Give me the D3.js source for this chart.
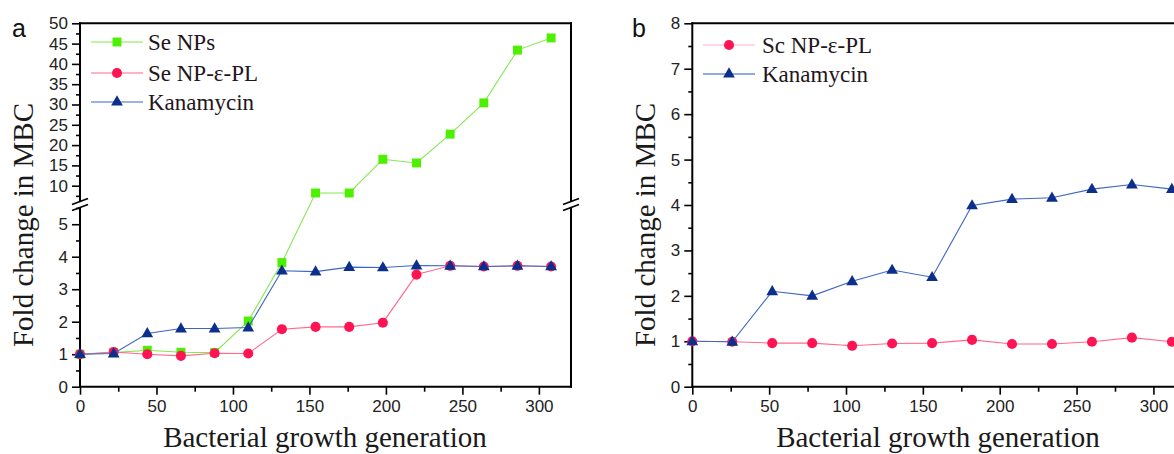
<!DOCTYPE html>
<html lang="en">
<head>
<meta charset="UTF-8">
<title>Fold change in MBC</title>
<script src="https://d3js.org/d3.v7.min.js"></script>
<style>
    body {
        margin: 0;
        background: #fff;
        overflow: hidden;
    }
    .tick text {
        font-family: 'Liberation Sans', Arial, sans-serif;
        font-size: 17px;
        fill: #222;
    }
    .title {
        font-family: 'Liberation Serif', 'Times New Roman', serif;
        font-size: 29px;
        fill: #1a1a1a;
    }
    .legend text {
        font-family: 'Liberation Serif', 'Times New Roman', serif;
        font-size: 23px;
        fill: #1f1620;
    }
    .panel-label {
        font-family: 'Liberation Sans', Arial, sans-serif;
        font-size: 25px;
        fill: #111;
    }
</style>
</head>
<body>
<div id="chart"></div>
<script>
// data, panel a
const genA = [0, 22, 44, 66, 88, 110, 132, 154, 176, 198, 220, 242, 264, 286, 308];
const seNPsA = [1.0, 1.05, 1.12, 1.06, 1.05, 2.02, 3.82, 8.2, 8.2, 16.5, 15.6, 22.7, 30.4, 43.4, 46.4];
const sePLA = [1.0, 1.07, 1.0, 0.95, 1.03, 1.02, 1.77, 1.84, 1.84, 1.97, 3.45, 3.72, 3.7, 3.72, 3.7];
const kanA = [1.0, 1.02, 1.64, 1.79, 1.79, 1.82, 3.57, 3.54, 3.68, 3.67, 3.73, 3.72, 3.7, 3.72, 3.7];

// data, panel b
const genB = [0, 26, 52, 78, 104, 130, 156, 182, 208, 234, 260, 286, 312];
const sePLB = [1.0, 0.99, 0.96, 0.96, 0.9, 0.95, 0.96, 1.03, 0.94, 0.94, 0.99, 1.08, 0.99];
const kanB = [1.0, 0.99, 2.1, 2.0, 2.32, 2.57, 2.41, 3.99, 4.13, 4.16, 4.35, 4.45, 4.35];

// tick values
const xTicks = [0, 50, 100, 150, 200, 250, 300];
const xMinor = [25, 75, 125, 175, 225, 275];
const yLowTicks = [0, 1, 2, 3, 4, 5];
const yHighTicks = [10, 15, 20, 25, 30, 35, 40, 45, 50];
const yBTicks = [0, 1, 2, 3, 4, 5, 6, 7, 8];

const green = { marker: "#4cf000", line: "#86e651" };
const red = { marker: "#ff1453", line: "#ff6a8c" };
const blue = { marker: "#0b2f8a", line: "#3d66c2" };

const W = 1174, H = 454;
const svg = d3.select("#chart").append("svg")
    .attr("width", W)
    .attr("height", H);

svg.append("rect").attr("width", W).attr("height", H).attr("fill", "#fff");

const sym = {
    square: d3.symbol().type(d3.symbolSquare).size(80),
    circle: d3.symbol().type(d3.symbolCircle).size(80),
    triangle: d3.symbol().type(d3.symbolTriangle).size(60)
};

function minorRange(a, b, step) {
    const out = [];
    for (let v = a; v <= b + 1e-9; v += step) out.push(+v.toFixed(3));
    return out;
}

function drawSeries(g, xs, ys, x, y, color, shape) {
    const pts = xs.map((d, i) => [x(d), y(ys[i])]);
    g.append("path")
        .attr("d", d3.line()(pts))
        .attr("fill", "none")
        .attr("stroke", color.line)
        .attr("stroke-width", 1.1);
    g.selectAll(null)
        .data(pts)
        .enter()
        .append("path")
        .attr("d", sym[shape])
        .attr("transform", d => `translate(${d[0]},${d[1] + (shape === "triangle" ? 0.5 : 0)})`)
        .attr("fill", color.marker);
}

function drawXAxis(g, x, y0) {
    g.append("g")
        .attr("transform", `translate(0,${y0})`)
        .call(d3.axisBottom(x).tickValues(xTicks).tickSize(8).tickPadding(5).tickFormat(d3.format("d")))
        .call(a => a.select(".domain").remove())
        .call(a => a.selectAll("line").attr("stroke-width", 1.6));
    g.append("g")
        .attr("transform", `translate(0,${y0})`)
        .call(d3.axisBottom(x).tickValues(xMinor).tickSize(5).tickFormat(""))
        .call(a => a.select(".domain").remove())
        .call(a => a.selectAll("line").attr("stroke-width", 1.6));
}

function drawYTicks(g, y, x0, major, minor) {
    g.append("g")
        .attr("transform", `translate(${x0},0)`)
        .call(d3.axisLeft(y).tickValues(major).tickSize(8).tickPadding(4).tickFormat(d3.format("d")))
        .call(a => a.select(".domain").remove())
        .call(a => a.selectAll("line").attr("stroke-width", 1.6));
    g.append("g")
        .attr("transform", `translate(${x0},0)`)
        .call(d3.axisLeft(y).tickValues(minor).tickSize(4).tickFormat(""))
        .call(a => a.select(".domain").remove())
        .call(a => a.selectAll("line").attr("stroke-width", 1.6));
}

function hline(g, x1, x2, y) {
    g.append("line").attr("x1", x1).attr("x2", x2).attr("y1", y).attr("y2", y)
        .attr("stroke", "#000").attr("stroke-width", 2);
}
function vline(g, x, y1, y2) {
    g.append("line").attr("x1", x).attr("x2", x).attr("y1", y1).attr("y2", y2)
        .attr("stroke", "#000").attr("stroke-width", 2);
}

// ---------- panel a ----------
const gA = svg.append("g");
const xA = d3.scaleLinear().domain([0, 321]).range([80, 571]);
const yLow = d3.scaleLinear().domain([0, 5.53]).range([386.7, 207]);
const yHigh = d3.scaleLinear().domain([6.23, 50]).range([201, 23.3]);
const yA = v => (v < 6 ? yLow(v) : yHigh(v));

drawYTicks(gA, yLow, 80, yLowTicks, minorRange(0.5, 5.5, 1));
drawYTicks(gA, yHigh, 80, yHighTicks, minorRange(7.5, 47.5, 5));
drawXAxis(gA, xA, 386.7);

// frame with broken y axis
vline(gA, 80, 387.7, 207);
vline(gA, 80, 201, 22.3);
vline(gA, 571, 387.7, 207);
vline(gA, 571, 201, 22.3);
hline(gA, 79, 572, 386.7);
hline(gA, 79, 572, 23.3);

[80, 571].forEach(bx => {
    [201.5, 207.5].forEach(by => {
        gA.append("line")
            .attr("x1", bx - 8).attr("y1", by + 3)
            .attr("x2", bx + 8).attr("y2", by - 3)
            .attr("stroke", "#000").attr("stroke-width", 1.8);
    });
});

drawSeries(gA, genA, seNPsA, xA, yA, green, "square");
drawSeries(gA, genA, sePLA, xA, yA, red, "circle");
drawSeries(gA, genA, kanA, xA, yA, blue, "triangle");

// legend a
const legA = gA.append("g").attr("class", "legend");
[["Se NPs", green, "square", 42], ["Se NP-\u03b5-PL", red, "circle", 73], ["Kanamycin", blue, "triangle", 102]]
    .forEach(([label, c, shape, ly]) => {
        legA.append("line").attr("x1", 91).attr("x2", 143).attr("y1", ly).attr("y2", ly)
            .attr("stroke", c.line).attr("stroke-width", 1.2);
        legA.append("path").attr("d", sym[shape]).attr("transform", `translate(117,${ly})`).attr("fill", c.marker);
        legA.append("text").attr("x", 148).attr("y", ly + 8).text(label);
    });

gA.append("text").attr("class", "panel-label").attr("x", 12).attr("y", 37).text("a");
gA.append("text").attr("class", "title")
    .attr("transform", "translate(33,225) rotate(-90)")
    .attr("text-anchor", "middle")
    .text("Fold change in MBC");
gA.append("text").attr("class", "title")
    .attr("x", 325).attr("y", 447)
    .attr("text-anchor", "middle")
    .text("Bacterial growth generation");

// ---------- panel b ----------
const gB = svg.append("g");
const xB = d3.scaleLinear().domain([0, 321]).range([692.3, 1185.7]);
const yB = d3.scaleLinear().domain([0, 8]).range([386.7, 23.3]);

drawYTicks(gB, yB, 692.3, yBTicks, minorRange(0.5, 7.5, 1));
drawXAxis(gB, xB, 386.7);

vline(gB, 692.3, 387.7, 22.3);
hline(gB, 691.3, 1186, 386.7);
hline(gB, 691.3, 1186, 23.3);

drawSeries(gB, genB, sePLB, xB, yB, red, "circle");
drawSeries(gB, genB, kanB, xB, yB, blue, "triangle");

const legB = gB.append("g").attr("class", "legend");
[["Sc NP-\u03b5-PL", red, "circle", 45, "#ffb6c8"], ["Kanamycin", blue, "triangle", 74, "#2a56b0"]]
    .forEach(([label, c, shape, ly, lc]) => {
        legB.append("line").attr("x1", 703).attr("x2", 755).attr("y1", ly).attr("y2", ly)
            .attr("stroke", lc).attr("stroke-width", 1.2);
        legB.append("path").attr("d", sym[shape]).attr("transform", `translate(729,${ly})`).attr("fill", c.marker);
        legB.append("text").attr("x", 762).attr("y", ly + 8).text(label);
    });

gB.append("text").attr("class", "panel-label").attr("x", 632).attr("y", 37).text("b");
gB.append("text").attr("class", "title")
    .attr("transform", "translate(655,225) rotate(-90)")
    .attr("text-anchor", "middle")
    .text("Fold change in MBC");
gB.append("text").attr("class", "title")
    .attr("x", 938).attr("y", 447)
    .attr("text-anchor", "middle")
    .text("Bacterial growth generation");
</script>
</body>
</html>
